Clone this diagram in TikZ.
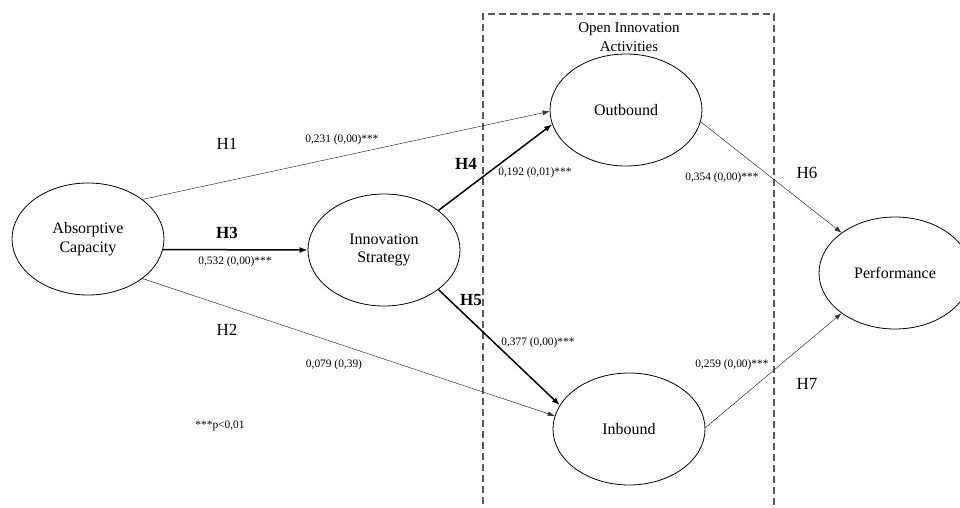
\documentclass[tikz,border=0pt]{standalone}
\usepackage{fontspec}
\setmainfont{Liberation Serif}
\usetikzlibrary{arrows.meta,shapes.geometric}

\begin{document}
\begin{tikzpicture}[x=1pt,y=-1pt,
		lat/.style={ellipse,draw,line width=.8pt,minimum width=152pt,minimum height=112pt,inner sep=0pt,align=center,font=\fontsize{16}{18.5}\selectfont},
		hyp/.style={font=\fontsize{17}{20}\selectfont},
		coef/.style={font=\fontsize{11.4}{13}\selectfont},
		pthin/.style={-{Latex[length=7pt,width=5pt]},line width=.5pt,black!80},
		pbold/.style={-{Latex[length=8pt,width=6pt]},line width=1.5pt}]
			\useasboundingbox (0,0) rectangle (960,508);
			\clip (0,0) rectangle (960,508);
			
			\draw [black!65,line width=1.2pt,dash pattern=on 7pt off 4pt] (483,515) -- (483,14) -- (774,14) -- (774,515);
			\node [align=center,font=\fontsize{15}{19}\selectfont] (oia) at (629,37) {Open Innovation\\Activities};
			
			\node [lat] (ac) at (88,239) {Absorptive\\Capacity};
			\node [lat] (is) at (384,250) {Innovation\\Strategy};
			\node [lat] (out) at (626,110) {Outbound};
			\node [lat] (in) at (629,429) {Inbound};
			\node [lat] (perf) at (895,273) {Performance};
			
			\draw [pthin] (ac.36) -- (out.181);
			\draw [pbold] (ac.-8) -- (is.west);
			\draw [pthin] (ac.-36) -- (in.170);
			\draw [pbold] (is.36) -- (out.191);
			\draw [pbold] (is.-36) -- (in.161);
			\draw [pthin] (out.-9) -- (perf.143);
			\draw [pthin] (in.1) -- (perf.217);
			
			\node [hyp] (h1) at (227,144) {H1};
			\node [coef] (c1) at (342,140) {0,231 (0,00)***};
			\node [hyp] (h3) at (227,233) {\textbf{H3}};
			\node [coef] (c3) at (235,262) {0,532 (0,00)***};
			\node [hyp] (h2) at (227,330) {H2};
			\node [coef] (c2) at (334,365) {0,079 (0,39)};
			\node [hyp] (h4) at (466,164) {\textbf{H4}};
			\node [coef] (c4) at (535,173) {0,192 (0,01)***};
			\node [hyp] (h5) at (471,300) {\textbf{H5}};
			\node [coef] (c5) at (538,343) {0,377 (0,00)***};
			\node [coef] (c6) at (722,178) {0,354 (0,00)***};
			\node [hyp] (h6) at (807,173) {H6};
			\node [coef] (c7) at (732,365) {0,259 (0,00)***};
			\node [hyp] (h7) at (807,384) {H7};
			
			\node [coef] (sig) at (220,426) {***p<0,01};
			\end{tikzpicture}
\end{document}
